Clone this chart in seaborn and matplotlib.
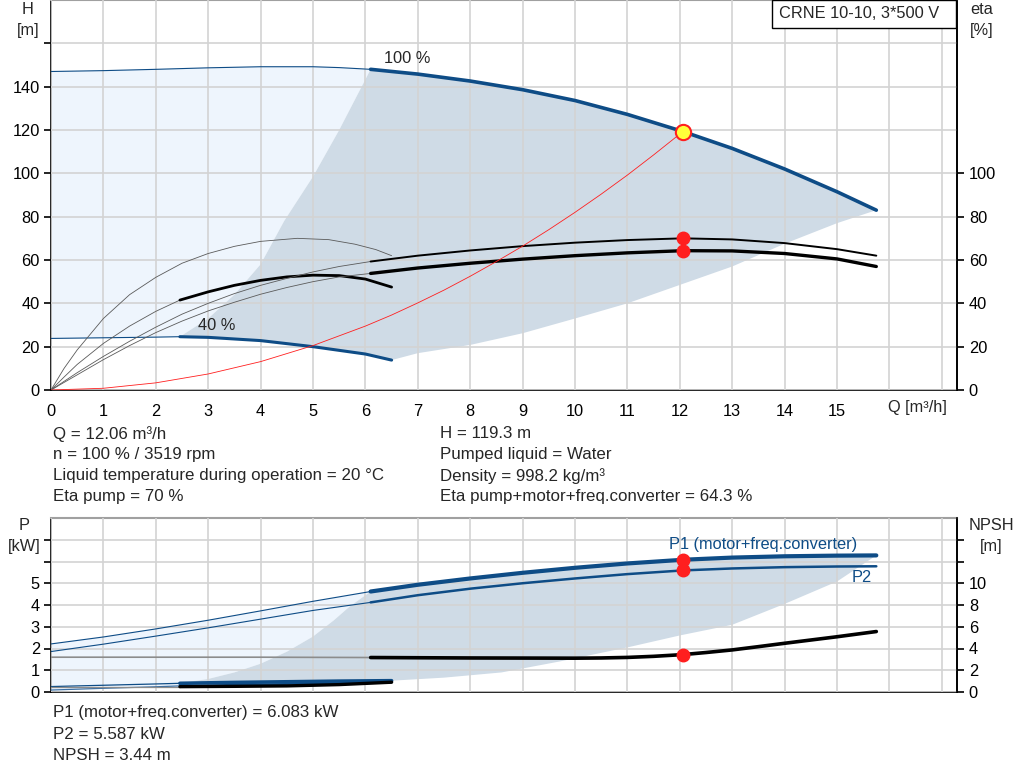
import numpy as np
import matplotlib
matplotlib.use("Agg")
import matplotlib.pyplot as plt
import seaborn as sns
from matplotlib.patches import Rectangle

# ---------------- top chart: H and eta vs Q ----------------
# 100 % speed head curve (thin = outside range, thick = operating range)
q_h100_thin = [0, 1, 2, 3, 4, 5, 5.5, 6.1]
h100_thin = [147.0, 147.4, 148.0, 148.7, 149.2, 149.2, 148.8, 148.0]
q_h100 = [6.1, 7, 8, 9, 10, 11, 12.06, 13, 14, 15, 15.75]
h100 = [148.0, 145.8, 142.6, 138.6, 133.6, 127.2, 119.3, 111.5, 102.0, 91.5, 83.0]

# 40 % speed head curve
q_h40_thin = [0, 1, 2, 2.46]
h40_thin = [23.8, 24.1, 24.4, 24.6]
q_h40 = [2.46, 3, 4, 5, 6, 6.5]
h40 = [24.6, 24.3, 22.8, 20.0, 16.6, 13.8]

# operating range boundaries
q_left_h = [2.46, 3.0, 3.5, 4.0, 4.45, 5.0, 5.5, 6.1]
h_left = [24.6, 33.0, 44.0, 58.0, 78.0, 98.5, 120.0, 148.0]
q_right_h = [6.5, 7, 8, 9, 10, 11, 12, 13, 14, 15, 15.75]
h_right = [13.8, 17.0, 20.8, 26.2, 33.0, 40.0, 48.5, 57.0, 67.5, 77.0, 83.0]

# efficiency curves [%]
q_eta40p = [0, 0.25, 0.5, 1, 1.5, 2, 2.5, 3, 3.5, 4, 4.7, 5.3, 5.8, 6.2, 6.5]
eta40p = [0, 10, 18.5, 33, 44, 52, 58.5, 63, 66.3, 68.6, 70, 69.4, 67.3, 64.8, 62]
q_eta40t_thin = [0, 0.25, 0.5, 1, 1.5, 2, 2.46]
eta40t_thin = [0, 6, 11.8, 21.5, 29.5, 36.3, 41.5]
q_eta40t = [2.46, 3, 3.5, 4, 4.5, 5, 5.5, 6, 6.5]
eta40t = [41.5, 45.3, 48.3, 50.6, 52.2, 53, 52.8, 51.2, 47.5]
q_eta100_thin = [0, 0.25, 0.5, 1, 1.5, 2, 2.5, 3, 3.5, 4, 4.5, 5, 5.5, 6.1]
eta100p_thin = [0, 4, 8, 15.5, 22.5, 29, 35, 40, 44.5, 48.3, 51.5, 54.5, 57, 59.3]
eta100t_thin = [0, 3.5, 7, 14, 20.5, 26.5, 31.8, 36.5, 40.5, 44.2, 47.3, 50, 52.2, 53.8]
q_eta100 = [6.1, 7, 8, 9, 10, 11, 12.06, 13, 14, 15, 15.75]
eta100p = [59.3, 62.0, 64.4, 66.4, 68.0, 69.2, 70.0, 69.5, 67.8, 65.0, 62.0]
eta100t = [53.8, 56.3, 58.5, 60.4, 62.0, 63.3, 64.3, 64.2, 63.0, 60.5, 57.0]

# system curve
q_sys = [0, 1, 2, 3, 4, 5, 6, 6.5, 7, 7.5, 8, 8.5, 9, 9.5, 10, 10.5, 11, 11.5, 12.06]
h_sys = [0, 0.8, 3.3, 7.4, 13.1, 20.5, 29.5, 34.6, 40.2, 46.1, 52.5, 59.3, 66.4,
         74.0, 82.0, 90.4, 99.2, 108.5, 119.3]

# duty point
q_duty = 12.06
h_duty = 119.3
eta_duty = [70, 64.3]

# ---------------- bottom chart: P and NPSH vs Q ----------------
q_p_thin = [0, 1, 2, 3, 4, 5, 6.1]
p1_thin = [2.21, 2.53, 2.9, 3.3, 3.73, 4.17, 4.62]
p2_thin = [1.86, 2.2, 2.57, 2.95, 3.35, 3.75, 4.12]
q_p = [6.1, 7, 8, 9, 10, 11, 12.06, 13, 14, 15, 15.75]
p1 = [4.62, 4.93, 5.22, 5.48, 5.71, 5.91, 6.08, 6.18, 6.24, 6.27, 6.28]
p2 = [4.12, 4.45, 4.75, 5.0, 5.22, 5.42, 5.59, 5.68, 5.74, 5.77, 5.78]

q_p40_thin = [0, 1, 2, 2.46]
p1_40_thin = [0.25, 0.31, 0.37, 0.40]
p2_40_thin = [0.09, 0.17, 0.24, 0.28]
q_p40 = [2.46, 3.5, 4.5, 5.5, 6.5]
p1_40 = [0.40, 0.44, 0.47, 0.50, 0.52]
p2_40 = [0.28, 0.33, 0.37, 0.41, 0.44]

q_left_p = [2.46, 3.0, 3.5, 4.0, 4.5, 5.0, 5.4, 5.7, 6.1]
p_left = [0.40, 0.6, 0.9, 1.3, 1.85, 2.55, 3.3, 3.93, 4.62]
q_right_p = [6.5, 7.5, 8.6, 9.7, 11, 12, 13, 14, 15, 15.75]
p_right = [0.52, 0.66, 0.9, 1.4, 2.05, 2.6, 3.09, 4.05, 5.08, 6.28]

q_npsh_thin = [0, 2, 4, 6.1]
npsh_thin = [3.2, 3.2, 3.2, 3.17]
q_npsh = [6.1, 7, 8, 9, 10, 10.5, 11, 11.5, 12.06, 12.5, 13, 13.5, 14, 15, 15.75]
npsh = [3.17, 3.15, 3.13, 3.12, 3.11, 3.13, 3.18, 3.28, 3.44, 3.63, 3.87, 4.17, 4.48,
        5.08, 5.56]
q_npsh40_thin = [0, 2.46]
npsh40_thin = [0.49, 0.49]
q_npsh40 = [2.46, 3.5, 4.5, 5.5, 6.5]
npsh40 = [0.49, 0.52, 0.56, 0.68, 0.9]

p_duty = [6.083, 5.587]
npsh_duty = 3.44

BLUE = "#0e4c86"
LIGHT = "#eef5fd"
DARK = "#cfdbe6"
GRID = "#d3d3d3"
THIN = "#5a5a5a"
RED = "#ff1f1f"

sns.set_theme(style="white")
plt.rcParams['font.family'] = ['Liberation Sans', 'DejaVu Sans']
FS = 11.8
FS_INFO = 12.2


def curve(ax, q, v, color, lw, z=3):
    sns.lineplot(x=q, y=v, ax=ax, color=color, linewidth=lw, zorder=z,
                 sort=False, legend=False)


def style_axes(ax):
    for s in ['left', 'bottom', 'right']:
        ax.spines[s].set_color('black')
        ax.spines[s].set_linewidth(1.2)
    ax.spines['top'].set_color('#a0a0a0')
    ax.spines['top'].set_linewidth(1.5)
    ax.tick_params(direction='out', length=5, width=1.2, colors='black',
                   labelsize=FS, pad=3)
    ax.set_axisbelow(False)
    ax.grid(True, color=GRID, linewidth=1.2, zorder=2)


fig = plt.figure(figsize=(10.24, 7.81), dpi=100)

# ---------- top chart ----------
ax = fig.add_axes([51/1024, 1 - 390/781, 906/1024, 390/781])
ax.set_xlim(0, 17.29)
ax.set_ylim(0, 180)

light_q = np.concatenate([q_h100_thin, q_left_h[::-1], q_h40_thin[::-1]])
light_h = np.concatenate([h100_thin, h_left[::-1], h40_thin[::-1]])
ax.fill(light_q, light_h, color=LIGHT, lw=0, zorder=1)
dark_q = np.concatenate([q_left_h, q_h100, q_right_h[::-1], q_h40[::-1]])
dark_h = np.concatenate([h_left, h100, h_right[::-1], h40[::-1]])
ax.fill(dark_q, dark_h, color=DARK, lw=0, zorder=1)

curve(ax, q_h100_thin, h100_thin, BLUE, 0.8)
curve(ax, q_h100, h100, BLUE, 2.6)
curve(ax, q_h40_thin, h40_thin, BLUE, 0.8)
curve(ax, q_h40, h40, BLUE, 2.2)

curve(ax, q_eta40p, eta40p, THIN, 0.6)
curve(ax, q_eta40t_thin, eta40t_thin, THIN, 0.6)
curve(ax, q_eta40t, eta40t, "black", 2.0)
curve(ax, q_eta100_thin, eta100p_thin, THIN, 0.6)
curve(ax, q_eta100_thin, eta100t_thin, THIN, 0.6)
curve(ax, q_eta100, eta100p, "black", 1.4)
curve(ax, q_eta100, eta100t, "black", 2.4)

curve(ax, q_sys, h_sys, RED, 0.6, z=4)

ax.plot([q_duty, q_duty], eta_duty, 'o', color=RED, ms=9, mec=RED, zorder=5)
ax.plot([q_duty], [h_duty], 'o', color='#ffff3a', ms=11, mec=RED, mew=1.5, zorder=6)

ax.text(6.35, 152.8, "100 %", fontsize=FS, va='center', ha='left', zorder=6)
ax.text(2.8, 30, "40 %", fontsize=FS, va='center', ha='left', zorder=6)

style_axes(ax)
ax.set_xticks(range(0, 18))
ax.set_xticklabels([str(i) if i <= 15 else '' for i in range(0, 18)])
ax.set_yticks(range(0, 161, 20))
ax.set_yticklabels([str(v) if v <= 140 else '' for v in range(0, 161, 20)])
ax.tick_params(axis='x', length=7)
ax.text(15.98, -0.045, "Q [m³/h]", transform=ax.get_xaxis_transform(),
        fontsize=FS, ha='left', va='center')

ax_eta = ax.twinx()
ax_eta.set_ylim(0, 180)
ax_eta.set_yticks(range(0, 101, 20))
ax_eta.grid(False)
for s in ['left', 'top', 'bottom']:
    ax_eta.spines[s].set_visible(False)
ax_eta.spines['right'].set_color('black')
ax_eta.spines['right'].set_linewidth(1.2)
ax_eta.tick_params(direction='out', length=5, width=1.2, colors='black', labelsize=FS)

# ---------- bottom chart ----------
bx = fig.add_axes([51/1024, 1 - 692/781, 906/1024, 174/781])
bx.set_xlim(0, 17.29)
bx.set_ylim(0, 8)

light_q = np.concatenate([q_p_thin, q_left_p[::-1], q_p40_thin[::-1]])
light_p = np.concatenate([p1_thin, p_left[::-1], p2_40_thin[::-1]])
bx.fill(light_q, light_p, color=LIGHT, lw=0, zorder=1)
dark_q = np.concatenate([q_left_p, q_p, q_right_p[::-1], q_p40[::-1]])
dark_p = np.concatenate([p_left, p1, p_right[::-1], p1_40[::-1]])
bx.fill(dark_q, dark_p, color=DARK, lw=0, zorder=1)

curve(bx, q_p_thin, p1_thin, BLUE, 0.8)
curve(bx, q_p_thin, p2_thin, BLUE, 0.8)
curve(bx, q_p, p1, BLUE, 3.0)
curve(bx, q_p, p2, BLUE, 1.8)
curve(bx, q_p40_thin, p1_40_thin, BLUE, 0.9)
curve(bx, q_p40_thin, p2_40_thin, "#3a6fa5", 0.9)
curve(bx, q_p40, p1_40, BLUE, 2.6)
curve(bx, q_p40, p2_40, BLUE, 1.4)

bx.plot([q_duty, q_duty], p_duty, 'o', color=RED, ms=9, mec=RED, zorder=6)
bx.text(11.8, 6.77, "P1 (motor+freq.converter)", color=BLUE, fontsize=FS,
        ha='left', va='center', zorder=6)
bx.text(15.27, 5.25, "P2", color=BLUE, fontsize=FS, ha='left', va='center', zorder=6)

style_axes(bx)
bx.set_xticks(range(0, 18))
bx.tick_params(axis='x', length=0, labelbottom=False)
bx.set_yticks(range(0, 8))
bx.set_yticklabels([str(v) if v <= 5 else '' for v in range(0, 8)])

bx_n = bx.twinx()
bx_n.set_ylim(0, 16)
bx_n.grid(False)
curve(bx_n, q_npsh_thin, npsh_thin, "#8c8c8c", 1.2)
curve(bx_n, q_npsh, npsh, "black", 2.6)
curve(bx_n, q_npsh40_thin, npsh40_thin, "#8c8c8c", 0.9)
curve(bx_n, q_npsh40, npsh40, "black", 2.4)
bx_n.plot([q_duty], [npsh_duty], 'o', color=RED, ms=9, mec=RED, zorder=6)
bx_n.set_yticks(range(0, 15, 2))
bx_n.set_yticklabels([str(v) if v <= 10 else '' for v in range(0, 15, 2)])
for s in ['left', 'top', 'bottom']:
    bx_n.spines[s].set_visible(False)
bx_n.spines['right'].set_color('black')
bx_n.spines['right'].set_linewidth(1.2)
bx_n.tick_params(direction='out', length=5, width=1.2, colors='black', labelsize=FS)
bx_n.set_xlim(0, 17.29)

# ---------- axis unit labels ----------
def ftext(x, y, s, size=FS, **kw):
    fig.text(x/1024, 1 - y/781, s, fontsize=size, va='center', **kw)

ftext(28, 10, "H", ha='center')
ftext(28, 30, "[m]", ha='center')
ftext(982, 10, "eta", ha='center')
ftext(982, 30, "[%]", ha='center')
ftext(24, 526, "P", ha='center')
ftext(24, 547, "[kW]", ha='center')
ftext(991, 526, "NPSH", ha='center')
ftext(991, 547, "[m]", ha='center')

# title box
fig.add_artist(Rectangle((772/1024, 1 - 28/781), 184/1024, 28/781,
                         transform=fig.transFigure, facecolor='white',
                         edgecolor='black', linewidth=1.0, zorder=10))
ftext(779, 14, "CRNE 10-10, 3*500 V", ha='left', zorder=11)

# ---------- info text ----------
info_left = ["Q = 12.06 m³/h", "n = 100 % / 3519 rpm",
             "Liquid temperature during operation = 20 °C", "Eta pump = 70 %"]
info_right = ["H = 119.3 m", "Pumped liquid = Water", "Density = 998.2 kg/m³",
              "Eta pump+motor+freq.converter = 64.3 %"]
info_bottom = ["P1 (motor+freq.converter) = 6.083 kW", "P2 = 5.587 kW", "NPSH = 3.44 m"]
for i, s in enumerate(info_left):
    ftext(53, 434 + 21 * i, s, size=FS_INFO, ha='left')
for i, s in enumerate(info_right):
    ftext(440, 434 + 21 * i, s, size=FS_INFO, ha='left')
for i, s in enumerate(info_bottom):
    ftext(53, 713 + 21.5 * i, s, size=FS_INFO, ha='left')

fig.savefig("out.png", dpi=100)
